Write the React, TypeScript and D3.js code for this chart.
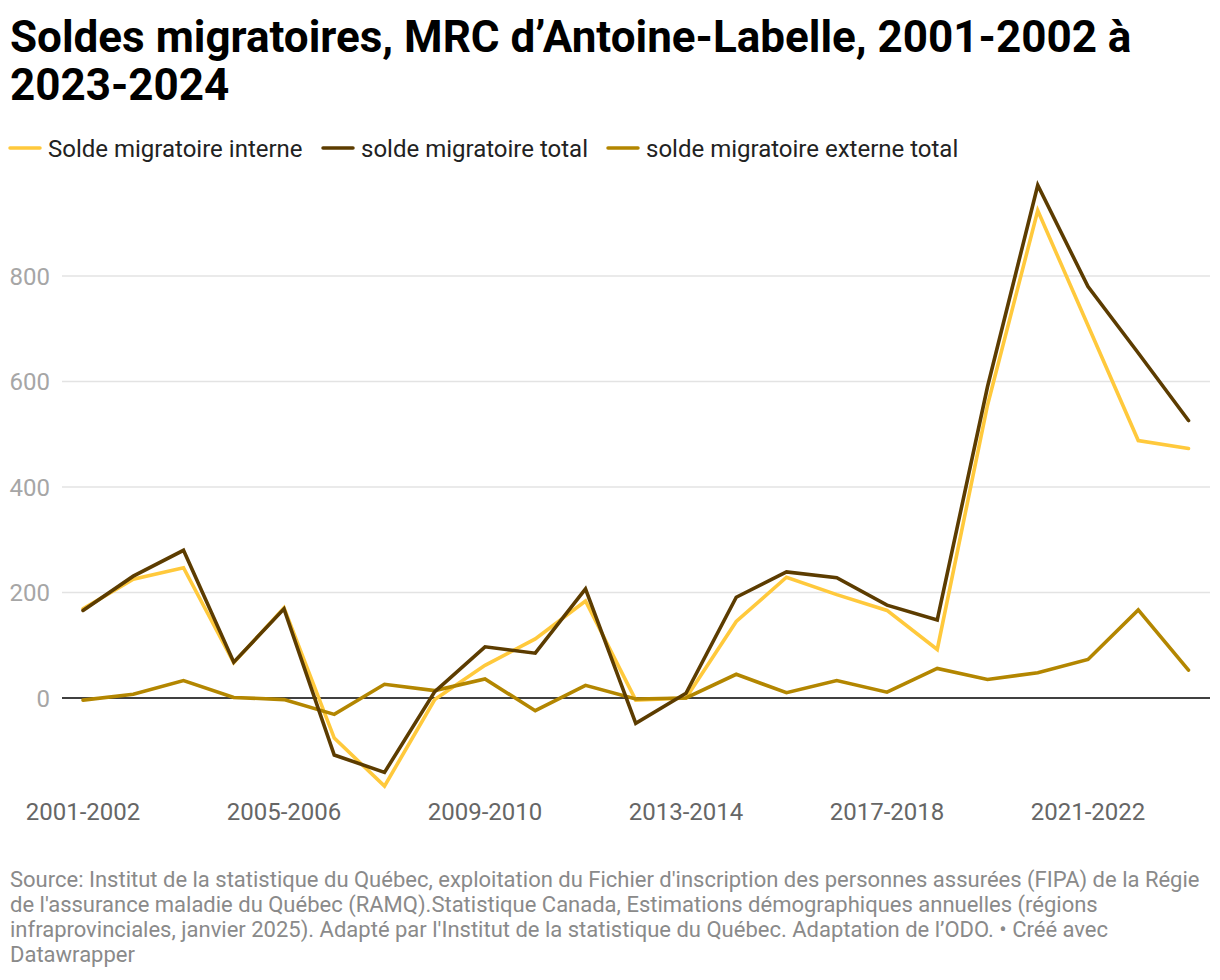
import React from "react";
import * as d3 from "d3";

const periods = [
  "2001-2002", "2002-2003", "2003-2004", "2004-2005", "2005-2006", "2006-2007",
  "2007-2008", "2008-2009", "2009-2010", "2010-2011", "2011-2012", "2012-2013",
  "2013-2014", "2014-2015", "2015-2016", "2016-2017", "2017-2018", "2018-2019",
  "2019-2020", "2020-2021", "2021-2022", "2022-2023", "2023-2024",
];

const interne = [169, 225, 247, 67, 171, -76, -167, -3, 62, 112, 184, -4, 0, 145, 229, 196, 166, 92, 555, 924, 706, 488, 473];
const total = [166, 231, 280, 68, 169, -108, -141, 12, 97, 85, 207, -48, 9, 191, 239, 228, 176, 148, 590, 972, 780, 654, 526];
const externe = [-4, 7, 33, 1, -3, -31, 26, 14, 36, -24, 24, -2, 0, 45, 10, 33, 11, 56, 35, 48, 73, 167, 53];

const yTicks = [0, 200, 400, 600, 800];
const xTickLabels = ["2001-2002", "2005-2006", "2009-2010", "2013-2014", "2017-2018", "2021-2022"];

const seriesNames = ["Solde migratoire interne", "solde migratoire total", "solde migratoire externe total"];
const seriesColors = ["#ffc93c", "#5c3c00", "#b38600"];

const titleLines = ["Soldes migratoires, MRC d’Antoine-Labelle, 2001-2002 à", "2023-2024"];
const sourceLines = [
  "Source: Institut de la statistique du Québec, exploitation du Fichier d'inscription des personnes assurées (FIPA) de la Régie",
  "de l'assurance maladie du Québec (RAMQ).Statistique Canada, Estimations démographiques annuelles (régions",
  "infraprovinciales, janvier 2025). Adapté par l'Institut de la statistique du Québec. Adaptation de l’ODO. • Créé avec",
  "Datawrapper",
];

const W = 1220;
const H = 980;
const FONT = "Roboto, 'Noto Sans', sans-serif";

export default function App() {
  const x = d3.scalePoint<string>().domain(periods).range([83, 1188.5]);
  const y = d3.scaleLinear().domain([0, 800]).range([698, 276]);
  const gridX0 = 62;
  const gridX1 = 1210;

  const seriesData = [interne, total, externe];
  const drawOrder = [0, 2, 1];
  const line = d3
    .line<number>()
    .x((_, i) => x(periods[i]) as number)
    .y((d) => y(d));

  const legendX = [10, 323, 608];

  return (
    <div style={{ position: "absolute", left: 0, top: 0 }}>
      <svg width={W} height={H} style={{ display: "block", background: "#fff" }} fontFamily={FONT}>
        {titleLines.map((t, i) => (
          <text key={i} x={10} y={52 + i * 48} fontSize={44} fontWeight={700} fill="#000">
            {t}
          </text>
        ))}

        {seriesNames.map((n, i) => (
          <g key={n} transform={`translate(${legendX[i]},148)`}>
            <line x1={0} x2={30} y1={0} y2={0} stroke={seriesColors[i]} strokeWidth={3.5} strokeLinecap="round" />
            <text x={38} y={8.5} fontSize={24} fill="#222">
              {n}
            </text>
          </g>
        ))}

        {yTicks.map((t) => (
          <g key={t}>
            <line
              x1={gridX0}
              x2={gridX1}
              y1={y(t)}
              y2={y(t)}
              stroke={t === 0 ? "#000" : "#e3e3e3"}
              strokeWidth={t === 0 ? 1.6 : 1.3}
            />
            <text x={50} y={y(t) + 8.5} textAnchor="end" fontSize={24} fill="#a6a6a6">
              {t}
            </text>
          </g>
        ))}

        {xTickLabels.map((l) => (
          <text key={l} x={x(l)} y={820} textAnchor="middle" fontSize={24} fill="#666">
            {l}
          </text>
        ))}

        {drawOrder.map((si) => (
          <path
            key={si}
            d={line(seriesData[si]) || ""}
            fill="none"
            stroke={seriesColors[si]}
            strokeWidth={3.6}
            strokeLinejoin="miter"
            strokeLinecap="round"
          />
        ))}

        {sourceLines.map((s, i) => (
          <text key={i} x={10} y={887 + i * 25} fontSize={22} fill="#8a8a8a">
            {s}
          </text>
        ))}
      </svg>
    </div>
  );
}
